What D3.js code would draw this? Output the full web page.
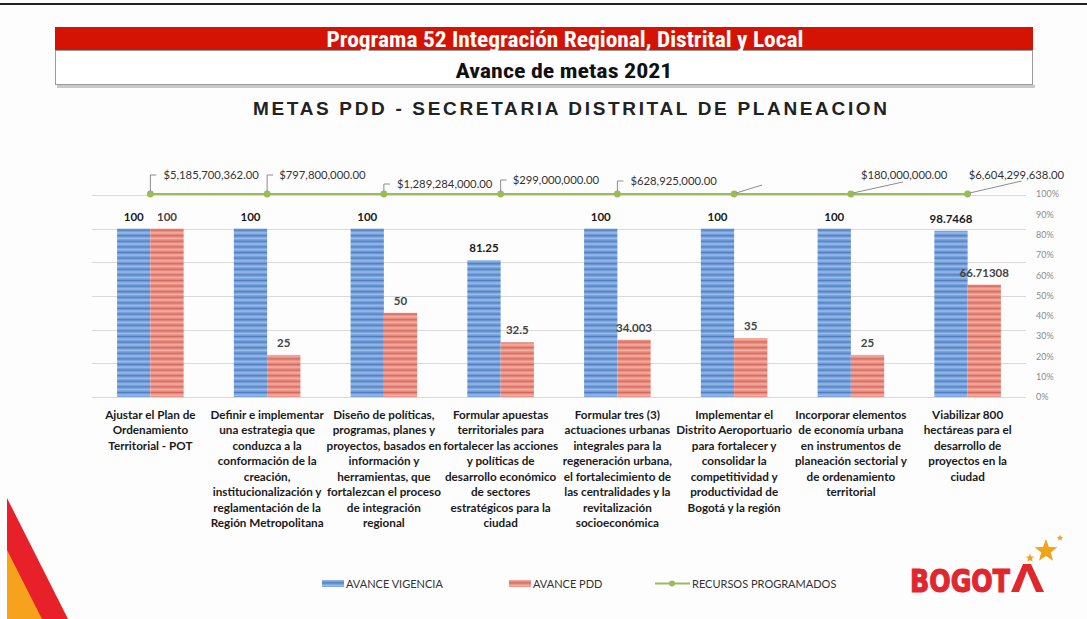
<!DOCTYPE html>
<html><head><meta charset="utf-8">
<script src="https://cdn.jsdelivr.net/npm/d3@7"></script>
<style>
html,body{margin:0;padding:0;background:#fdfdfe;}
svg{display:block;}
</style></head>
<body>
<svg id="chart" width="1087" height="619"></svg>
<script>
// ---------- DATA ----------
const categories = [
  ["Ajustar el Plan de","Ordenamiento","Territorial - POT"],
  ["Definir e implementar","una estrategia que","conduzca a la","conformación de la","creación,","institucionalización y","reglamentación de la","Región Metropolitana"],
  ["Diseño de políticas,","programas, planes y","proyectos, basados en","información y","herramientas, que","fortalezcan el proceso","de integración","regional"],
  ["Formular apuestas","territoriales para","fortalecer las acciones","y políticas de","desarrollo económico","de sectores","estratégicos para la","ciudad"],
  ["Formular tres (3)","actuaciones urbanas","integrales para la","regeneración urbana,","el fortalecimiento de","las centralidades y la","revitalización","socioeconómica"],
  ["Implementar el","Distrito Aeroportuario","para fortalecer y","consolidar la","competitividad y","productividad de","Bogotá y la región"],
  ["Incorporar elementos","de economía urbana","en instrumentos de","planeación sectorial y","de ordenamiento","territorial"],
  ["Viabilizar 800","hectáreas para el","desarrollo de","proyectos en la","ciudad"]
];
const avanceVigencia = [100, 100, 100, 81.25, 100, 100, 100, 98.7468];
const avancePDD = [100, 25, 50, 32.5, 34.003, 35, 25, 66.71308];
const avanceVigenciaLabels = ["100","100","100","81.25","100","100","100","98.7468"];
const avancePDDLabels = ["100","25","50","32.5","34.003","35","25","66.71308"];
const recursosPct = [100, 100, 100, 100, 100, 100, 100, 100];
const recursosLabels = ["$5,185,700,362.00","$797,800,000.00","$1,289,284,000.00","$299,000,000.00","$628,925,000.00","","$180,000,000.00","$6,604,299,638.00"];
const barTicks = [0, 20, 40, 60, 80, 100, 120];
const pctTicks = [0,10,20,30,40,50,60,70,80,90,100];
const seriesNames = ["AVANCE VIGENCIA","AVANCE PDD","RECURSOS PROGRAMADOS"];

// ---------- LAYOUT ----------
const svg = d3.select("#chart");
const W = 1087, H = 619;
const FONT = "Lato, 'Open Sans', sans-serif";
const NARROW = "'Liberation Sans Narrow', 'Arial Narrow', 'Roboto Condensed', sans-serif";

svg.append("rect").attr("width", W).attr("height", H).attr("fill", "#fdfdfe");
// top black rule
svg.append("rect").attr("x", 0).attr("y", 3).attr("width", W).attr("height", 2).attr("fill", "#222");

// header bars
svg.append("rect").attr("x", 57).attr("y", 85).attr("width", 978).attr("height", 3).attr("fill", "#c8c8c8");
svg.append("rect").attr("x", 55).attr("y", 27).attr("width", 978).attr("height", 23).attr("fill", "#d41305");
svg.append("rect").attr("x", 55.5).attr("y", 50.5).attr("width", 977).attr("height", 34).attr("fill", "#fff").attr("stroke", "#9a9a9a");
svg.append("text").attr("x", 565).attr("y", 46.5).attr("text-anchor", "middle")
  .attr("font-family", NARROW).attr("font-weight", "bold").attr("font-size", 22).attr("fill", "#fff")
  .attr("textLength", 477).attr("lengthAdjust", "spacingAndGlyphs")
  .text("Programa 52 Integración Regional, Distrital y Local");
svg.append("text").attr("x", 564).attr("y", 78).attr("text-anchor", "middle")
  .attr("font-family", NARROW).attr("font-weight", "bold").attr("font-size", 21).attr("fill", "#111")
  .attr("textLength", 217).attr("lengthAdjust", "spacingAndGlyphs")
  .text("Avance de metas 2021");
svg.append("text").attr("x", 570).attr("y", 115).attr("text-anchor", "middle")
  .attr("font-family", "'Liberation Sans', Arial, sans-serif").attr("font-weight", "bold").attr("font-size", 19)
  .attr("fill", "#222").attr("textLength", 634).attr("lengthAdjust", "spacing")
  .text("METAS PDD - SECRETARIA DISTRITAL DE PLANEACION");

// left decoration
svg.append("polygon").attr("points", "7,498 68,619 7,619").attr("fill", "#e8202a");
svg.append("polygon").attr("points", "7,550 42,619 7,619").attr("fill", "#f6a21d");

// patterns for bars
const defs = svg.append("defs");
function stripe(id, base, dark, light) {
  const p = defs.append("pattern").attr("id", id).attr("patternUnits", "userSpaceOnUse")
    .attr("width", 10).attr("height", 5.6);
  p.append("rect").attr("width", 10).attr("height", 5.6).attr("fill", base);
  p.append("rect").attr("y", 0).attr("width", 10).attr("height", 1).attr("fill", dark);
  p.append("rect").attr("y", 2.4).attr("width", 10).attr("height", 1.6).attr("fill", light);
}
stripe("pBlue", "#6f9bd9", "#4f7dbf", "#9dbde9");
stripe("pRed", "#e9887b", "#cf695d", "#f5b1a7");

// scales
const x0 = d3.scaleBand().domain(d3.range(categories.length)).range([92, 1026])
  .paddingInner(0.43).paddingOuter(0.215);
const x1 = d3.scaleBand().domain(["v", "p"]).range([0, x0.bandwidth()]);
const y = d3.scaleLinear().domain([0, 120]).range([397, 195]);
const y2 = d3.scaleLinear().domain([0, 100]).range([397, 194]);
const cx = i => x0(i) + x0.bandwidth() / 2;

// gridlines
svg.append("g").selectAll("line").data(barTicks).join("line")
  .attr("x1", 92).attr("x2", 1026).attr("y1", d => Math.round(y(d)) + 0.5).attr("y2", d => Math.round(y(d)) + 0.5)
  .attr("stroke", "#d9d9d9").attr("stroke-width", 1);

// right axis
const axR = d3.axisRight(y2).tickValues(pctTicks).tickFormat(d => d + "%").tickSize(0).tickPadding(10);
const gR = svg.append("g").attr("transform", "translate(1026,0)").call(axR);
gR.select(".domain").remove();
gR.selectAll("text").attr("font-family", FONT).attr("font-size", 9).attr("fill", "#8c8c8c");

// bars
const groups = svg.append("g").selectAll("g").data(categories).join("g")
  .attr("transform", (d, i) => `translate(${x0(i)},0)`);
groups.append("rect").attr("x", x1("v")).attr("width", x1.bandwidth())
  .attr("y", (d, i) => y(avanceVigencia[i])).attr("height", (d, i) => y(0) - y(avanceVigencia[i]))
  .attr("fill", "url(#pBlue)");
groups.append("rect").attr("x", x1("p")).attr("width", x1.bandwidth())
  .attr("y", (d, i) => y(avancePDD[i])).attr("height", (d, i) => y(0) - y(avancePDD[i]))
  .attr("fill", "url(#pRed)");
// bar labels
groups.append("text").attr("x", x1("v") + x1.bandwidth() / 2).attr("y", (d, i) => y(avanceVigencia[i]) - 8)
  .attr("text-anchor", "middle").attr("font-family", FONT).attr("font-weight", "bold").attr("font-size", 11.5)
  .attr("fill", "#1a1a1a").text((d, i) => avanceVigenciaLabels[i]);
groups.append("text").attr("x", x1("p") + x1.bandwidth() / 2).attr("y", (d, i) => y(avancePDD[i]) - 8)
  .attr("text-anchor", "middle").attr("font-family", FONT).attr("font-weight", "bold").attr("font-size", 11.5)
  .attr("fill", "#444").text((d, i) => avancePDDLabels[i]);

// category labels
groups.each(function (d, i) {
  const t = d3.select(this).append("text").attr("text-anchor", "middle")
    .attr("font-family", FONT).attr("font-weight", "bold").attr("font-size", 11.7).attr("fill", "#1a1a1a");
  d.forEach((line, k) => {
    t.append("tspan").attr("x", x0.bandwidth() / 2).attr("y", 418.5 + k * 15.5).text(line);
  });
});

// line series
const line = d3.line().x((d, i) => cx(i)).y(d => y2(d));
svg.append("path").datum(recursosPct).attr("d", line).attr("fill", "none")
  .attr("stroke", "#9bbb59").attr("stroke-width", 2.2);
svg.append("g").selectAll("circle").data(recursosPct).join("circle")
  .attr("cx", (d, i) => cx(i)).attr("cy", d => y2(d)).attr("r", 3.4).attr("fill", "#9bbb59");

// line labels with leaders (offsets are layout)
const lblOff = [
  {type: "hook", tx: 13, ty: -19},
  {type: "hook", tx: 12, ty: -19},
  {type: "hook", tx: 13, ty: -10},
  {type: "hook", tx: 12, ty: -14},
  {type: "hook", tx: 13, ty: -13},
  {type: "diag", lx: 28, ly: -9, tx: 30, ty: -20},
  {type: "diag", lx: 52, ly: -12, tx: 10, ty: -19},
  {type: "diag", lx: 54, ly: -13, tx: 1, ty: -19}
];
const gl = svg.append("g");
recursosPct.forEach((v, i) => {
  const px = cx(i), py = y2(v), o = lblOff[i];
  if (o.type === "hook") {
    gl.append("path").attr("d", `M${px},${py - 3} V${py + o.ty} H${px + 6}`)
      .attr("fill", "none").attr("stroke", "#8c8c8c").attr("stroke-width", 1);
  } else {
    gl.append("line").attr("x1", px + 2).attr("y1", py - 1).attr("x2", px + o.lx).attr("y2", py + o.ly)
      .attr("stroke", "#8c8c8c").attr("stroke-width", 1);
  }
  if (recursosLabels[i]) {
    gl.append("text").attr("x", px + o.tx).attr("y", py + o.ty + 4)
      .attr("font-family", FONT).attr("font-size", 11.3).attr("fill", "#333")
      .text(recursosLabels[i]);
  }
});

// legend
const lg = svg.append("g").attr("font-family", FONT).attr("font-size", 11).attr("fill", "#333");
const sw = [{x: 322, fill: "url(#pBlue)"}, {x: 509, fill: "url(#pRed)"}];
sw.forEach((s, k) => {
  lg.append("rect").attr("x", s.x).attr("y", 580).attr("width", 22).attr("height", 7).attr("fill", s.fill);
  lg.append("text").attr("x", s.x + 24).attr("y", 588).text(seriesNames[k]);
});
lg.append("line").attr("x1", 655).attr("x2", 690).attr("y1", 583.5).attr("y2", 583.5).attr("stroke", "#9bbb59").attr("stroke-width", 2.2);
lg.append("circle").attr("cx", 672).attr("cy", 583.5).attr("r", 3).attr("fill", "#9bbb59");
lg.append("text").attr("x", 692).attr("y", 588).text(seriesNames[2]);

// logo
const logo = svg.append("g");
logo.append("text").attr("x", 910).attr("y", 592).attr("font-family", "'DejaVu Sans', sans-serif")
  .attr("font-weight", "bold").attr("font-size", 32).attr("fill", "#e1262d")
  .attr("stroke", "#e1262d").attr("stroke-width", 1.2)
  .attr("textLength", 100).attr("lengthAdjust", "spacingAndGlyphs").text("BOGOT");
logo.append("path").attr("d", "M1011,592 L1023,564 L1031,564 L1044,592 L1036,592 L1027,571 L1019,592 Z").attr("fill", "#e1262d");
function star(cxs, cys, R, r) {
  const pts = [];
  for (let k = 0; k < 10; k++) {
    const a = -Math.PI / 2 + k * Math.PI / 5;
    const rr = k % 2 === 0 ? R : r;
    pts.push([cxs + rr * Math.cos(a), cys + rr * Math.sin(a)]);
  }
  return pts.map(p => p.join(",")).join(" ");
}
logo.append("polygon").attr("points", star(1046, 551, 12, 5)).attr("fill", "#f2a31c");
logo.append("polygon").attr("points", star(1030, 558, 4.5, 2)).attr("fill", "#f2a31c");
logo.append("polygon").attr("points", star(1060, 538, 3.5, 1.5)).attr("fill", "#f2a31c");
</script>
</body></html>
